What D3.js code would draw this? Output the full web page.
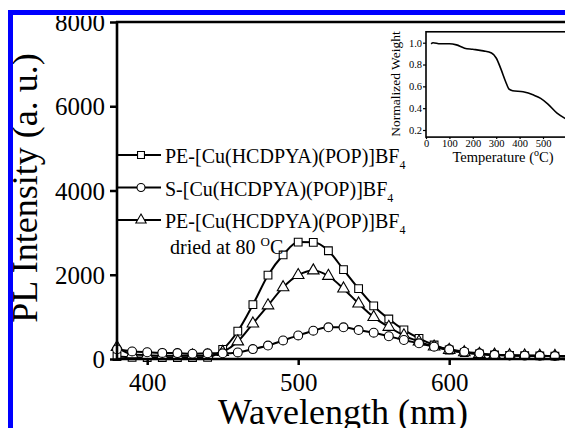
<!DOCTYPE html>
<html>
<head>
<meta charset="utf-8">
<script src="https://cdn.jsdelivr.net/npm/d3@7.9.0/dist/d3.min.js"></script>
<style>
  html, body { margin: 0; padding: 0; background: #fff; overflow: hidden; }
  svg { display: block; }
  svg text { font-family: "Liberation Serif", "DejaVu Serif", serif; fill: #000; }
</style>
</head>
<body>
<svg id="chart" width="565" height="428"></svg>
<script>
// wavelength grid (nm) shared by the three PL spectra
const wavelengths = [380, 390, 400, 410, 420, 430, 440, 450, 460, 470, 480, 490, 500, 510, 520,
  530, 540, 550, 560, 570, 580, 590, 600, 610, 620, 630, 640, 650, 660, 670, 680];

const pePristine = [60, 40, 35, 35, 35, 35, 40, 230, 660, 1290, 1990, 2470, 2775, 2770, 2570,
  2120, 1670, 1260, 950, 690, 490, 332, 214, 150, 119, 95, 85, 80, 75, 70, 65];
const sSample = [230, 180, 160, 145, 140, 125, 135, 135, 155, 235, 320, 440, 560, 672, 752,
  752, 688, 625, 540, 451, 372, 292, 229, 174, 134, 100, 85, 80, 75, 70, 65];
const peDried = [280, 110, 90, 80, 80, 80, 80, 165, 415, 840, 1270, 1700, 1990, 2100, 1970,
  1670, 1315, 995, 760, 560, 411, 292, 214, 158, 119, 99, 87, 80, 75, 70, 65];

const yTicks = [0, 2000, 4000, 6000, 8000];
const xTicks = [400, 500, 600];

// TGA inset
const tgaTemp = [22, 30, 60, 100, 130, 165, 200, 245, 280, 300, 320, 340, 355, 370, 415, 460, 490, 520, 560, 600];
const tgaWeight = [0.99, 1.0, 0.99, 0.99, 0.98, 0.95, 0.94, 0.925, 0.905, 0.86, 0.76, 0.645, 0.575, 0.56, 0.55,
  0.52, 0.49, 0.44, 0.355, 0.3];
const insetXTicks = [0, 100, 200, 300, 400, 500];
const insetYTicks = [0.2, 0.4, 0.6, 0.8, 1.0];

const serif = "'Liberation Serif', 'DejaVu Serif', serif";
const svg = d3.select("#chart");

const x = d3.scaleLinear().domain([380, 700]).range([117, 600.2]);
const y = d3.scaleLinear().domain([0, 8000]).range([359, 22]);

const series = [
  { name: "PE-[Cu(HCDPYA)(POP)]BF", values: pePristine, symbol: d3.symbolSquare, size: 60 },
  { name: "PE-[Cu(HCDPYA)(POP)]BF", values: peDried, symbol: d3.symbolTriangle, size: 58 },
  { name: "S-[Cu(HCDPYA)(POP)]BF", values: sSample, symbol: d3.symbolCircle, size: 62 }
];

const line = d3.line().x(d => x(d[0])).y(d => y(d[1])).curve(d3.curveMonotoneX);

series.forEach(s => {
  const pts = wavelengths.map((w, i) => [w, s.values[i]]);
  svg.append("path")
    .attr("d", line(pts))
    .attr("fill", "none")
    .attr("stroke", "#000")
    .attr("stroke-width", 2);
  svg.append("g").selectAll("path")
    .data(pts)
    .join("path")
    .attr("transform", d => `translate(${x(d[0])},${y(d[1])})`)
    .attr("d", d3.symbol().type(s.symbol).size(s.size))
    .attr("fill", "#fff")
    .attr("stroke", "#000")
    .attr("stroke-width", 1.1);
});

function styleAxis(g, fontSize, lineWidth) {
  g.attr("font-family", serif).attr("font-size", fontSize);
  g.select(".domain").remove();
  g.selectAll("line").attr("stroke", "#000").attr("stroke-width", lineWidth);
  g.selectAll("text").style("font-family", serif).style("font-size", fontSize + "px").attr("fill", "#000");
}

// axes
const gy = svg.append("g").attr("transform", `translate(${x(380)},0)`)
  .call(d3.axisLeft(y).tickValues(yTicks).tickSize(7).tickPadding(5).tickFormat(d3.format("d")));
const gx = svg.append("g").attr("transform", `translate(0,${y(0)})`)
  .call(d3.axisBottom(x).tickValues(xTicks).tickSize(6).tickPadding(8));
styleAxis(gx, 25, 2.5);
styleAxis(gy, 25, 2.5);
gy.selectAll("text").attr("dy", "0.34em");

// frame lines
svg.append("line").attr("x1", x(380)).attr("x2", x(380)).attr("y1", y(8000) - 1).attr("y2", y(0) + 1)
  .attr("stroke", "#000").attr("stroke-width", 2.6);
svg.append("line").attr("x1", x(380) - 1).attr("x2", 565).attr("y1", y(0)).attr("y2", y(0))
  .attr("stroke", "#000").attr("stroke-width", 2.6);
svg.append("line").attr("x1", x(380) - 1).attr("x2", 565).attr("y1", y(8000)).attr("y2", y(8000))
  .attr("stroke", "#000").attr("stroke-width", 2.6);

// axis titles (bottom one is cropped by the figure edge, as in the source)
svg.append("text")
  .attr("x", 343).attr("y", 424)
  .attr("text-anchor", "middle")
  .attr("font-size", 36)
  .text("Wavelength (nm)");
svg.append("text")
  .attr("transform", "translate(37,188) rotate(-90)")
  .attr("text-anchor", "middle")
  .attr("font-size", 36)
  .text("PL Intensity (a. u.)");

// legend
const legendRows = [series[0], series[2], series[1]];
legendRows.forEach((s, i) => {
  const ly = 155 + i * 32.5;
  svg.append("line").attr("x1", 117).attr("x2", 161).attr("y1", ly).attr("y2", ly)
    .attr("stroke", "#000").attr("stroke-width", 2);
  svg.append("path")
    .attr("transform", `translate(141,${ly})`)
    .attr("d", d3.symbol().type(s.symbol).size(s.size - 12))
    .attr("fill", "#fff").attr("stroke", "#000").attr("stroke-width", 1.1);
  const t = svg.append("text").attr("x", 165).attr("y", ly + 8).attr("font-size", 20);
  t.append("tspan").text(s.name);
  t.append("tspan").attr("font-size", 12).attr("dy", 6).text("4");
});
const dried = svg.append("text").attr("x", 170).attr("y", 254).attr("font-size", 20);
dried.append("tspan").text("dried at 80 ");
dried.append("tspan").attr("font-size", 13).attr("dy", -8).text("O");
dried.append("tspan").attr("dy", 8).text("C");

// inset TGA
const xi = d3.scaleLinear().domain([0, 600]).range([426, 566.4]);
const yi = d3.scaleLinear().domain([0.2, 1.0]).range([130, 42.7]);

svg.append("rect")
  .attr("x", xi(0)).attr("y", yi(1.1))
  .attr("width", 150).attr("height", yi(0.135) - yi(1.1))
  .attr("fill", "#fff").attr("stroke", "#000").attr("stroke-width", 1.6);

const tgaLine = d3.line().x(d => xi(d[0])).y(d => yi(d[1])).curve(d3.curveMonotoneX);
svg.append("path")
  .attr("d", tgaLine(tgaTemp.map((t, i) => [t, tgaWeight[i]])))
  .attr("fill", "none").attr("stroke", "#000").attr("stroke-width", 1.6);

const gxi = svg.append("g").attr("transform", `translate(0,${yi(0.135)})`)
  .call(d3.axisBottom(xi).tickValues(insetXTicks).tickSize(2).tickPadding(0));
const gyi = svg.append("g").attr("transform", `translate(${xi(0)},0)`)
  .call(d3.axisLeft(yi).tickValues(insetYTicks).tickSize(3).tickPadding(1).tickFormat(d3.format(".1f")));
styleAxis(gxi, 10.5, 1.2);
styleAxis(gyi, 10.5, 1.2);

svg.append("text")
  .attr("transform", "translate(400,84) rotate(-90)")
  .attr("text-anchor", "middle")
  .attr("font-size", 13.5)
  .text("Normalized Weight");
const tempLabel = svg.append("text").attr("x", 503).attr("y", 162).attr("text-anchor", "middle").attr("font-size", 14.5);
tempLabel.append("tspan").text("Temperature (");
tempLabel.append("tspan").attr("font-size", 10).attr("dy", -6).text("o");
tempLabel.append("tspan").attr("dy", 6).text("C)");

// outer blue frame (figure cropped at top/left)
svg.append("rect").attr("x", 0).attr("y", 0).attr("width", 565).attr("height", 16).attr("fill", "#fff");
svg.append("rect").attr("x", 0).attr("y", 0).attr("width", 8).attr("height", 428).attr("fill", "#fff");
svg.append("rect").attr("x", 8).attr("y", 10).attr("width", 557).attr("height", 5).attr("fill", "#0000ff");
svg.append("rect").attr("x", 8).attr("y", 10).attr("width", 5).attr("height", 418).attr("fill", "#0000ff");
</script>
</body>
</html>
